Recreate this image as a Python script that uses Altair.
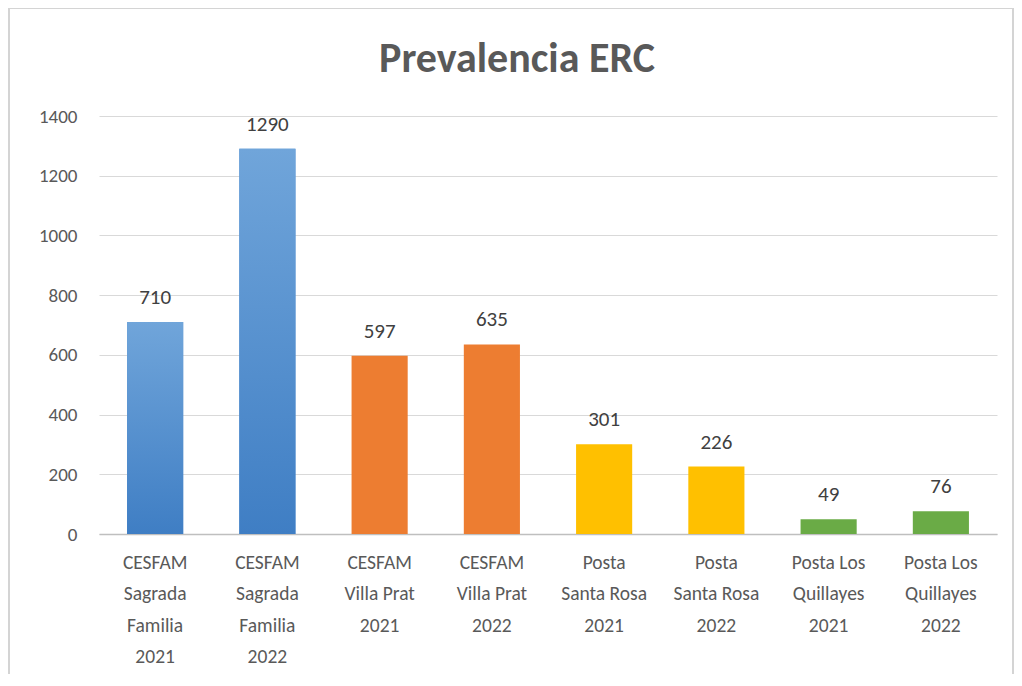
import altair as alt
import pandas as pd

categories = [
    "CESFAM|Sagrada|Familia|2021",
    "CESFAM|Sagrada|Familia|2022",
    "CESFAM|Villa Prat|2021",
    "CESFAM|Villa Prat|2022",
    "Posta|Santa Rosa|2021",
    "Posta|Santa Rosa|2022",
    "Posta Los|Quillayes|2021",
    "Posta Los|Quillayes|2022",
]
values = [710, 1290, 597, 635, 301, 226, 49, 76]
groups = ["Sagrada Familia", "Sagrada Familia", "Villa Prat", "Villa Prat",
          "Santa Rosa", "Santa Rosa", "Los Quillayes", "Los Quillayes"]
group_names = ["Sagrada Familia", "Villa Prat", "Santa Rosa", "Los Quillayes"]
group_colors = ["#4a8ad0", "#ed7d31", "#ffc000", "#6aab46"]
y_ticks = [0, 200, 400, 600, 800, 1000, 1200, 1400]

df = pd.DataFrame({"cat": categories, "value": values, "group": groups})

FONT = "Carlito, Lato, sans-serif"

x = alt.X("cat:N", sort=categories, title=None,
          scale=alt.Scale(paddingInner=0.5, paddingOuter=0.25),
          axis=alt.Axis(labelExpr="split(datum.label, '|')", labelAngle=0,
                        labelFont=FONT, labelFontSize=19.5, labelColor="#595959",
                        labelLineHeight=31.5, labelPadding=19, labelBaseline="top",
                        ticks=False, domainColor="#bfbfbf", domainWidth=1.5, grid=False))
y = alt.Y("value:Q", title=None,
          scale=alt.Scale(domain=[0, 1400], nice=False),
          axis=alt.Axis(values=y_ticks, format="d", labelFont=FONT, labelFontSize=19,
                        labelColor="#595959", labelPadding=22, ticks=False,
                        domain=False, gridColor="#d9d9d9", gridWidth=1))

frame = alt.Chart(df).mark_rect(fillOpacity=0, stroke="#d4d4d4", strokeWidth=2).encode(
    x=alt.value(-90), x2=alt.value(914), y=alt.value(-108), y2=alt.value(600)
)

bars = alt.Chart(df).mark_bar().encode(
    x=x, y=y,
    color=alt.Color("group:N", scale=alt.Scale(domain=group_names, range=group_colors), legend=None),
)

blue = alt.Chart(df).transform_filter(alt.datum.group == "Sagrada Familia").mark_bar(
    color=alt.Gradient(
        gradient="linear",
        stops=[alt.GradientStop(color="#70a5da", offset=0),
               alt.GradientStop(color="#3f7ec4", offset=1)],
        x1=0, x2=0, y1=0, y2=1,
    )
).encode(x=x, y=y)

labels = alt.Chart(df).mark_text(
    baseline="bottom", dy=-14, font=FONT, fontSize=21, color="#404040"
).encode(x=x, y=y, text="value:Q")

chart = alt.layer(frame, bars, blue, labels).properties(
    width=898, height=418,
    background="white",
    title=alt.TitleParams("Prevalencia ERC", font=FONT, fontSize=42, fontWeight="bold",
                          color="#595959", anchor="middle", offset=-74, dx=-31),
    autosize=alt.AutoSizeParams(type="none"),
    padding={"left": 91, "top": 108, "right": 17, "bottom": 140},
).configure_view(stroke=None)

chart.save("out.html", embed_options={"renderer": "svg", "actions": False})
